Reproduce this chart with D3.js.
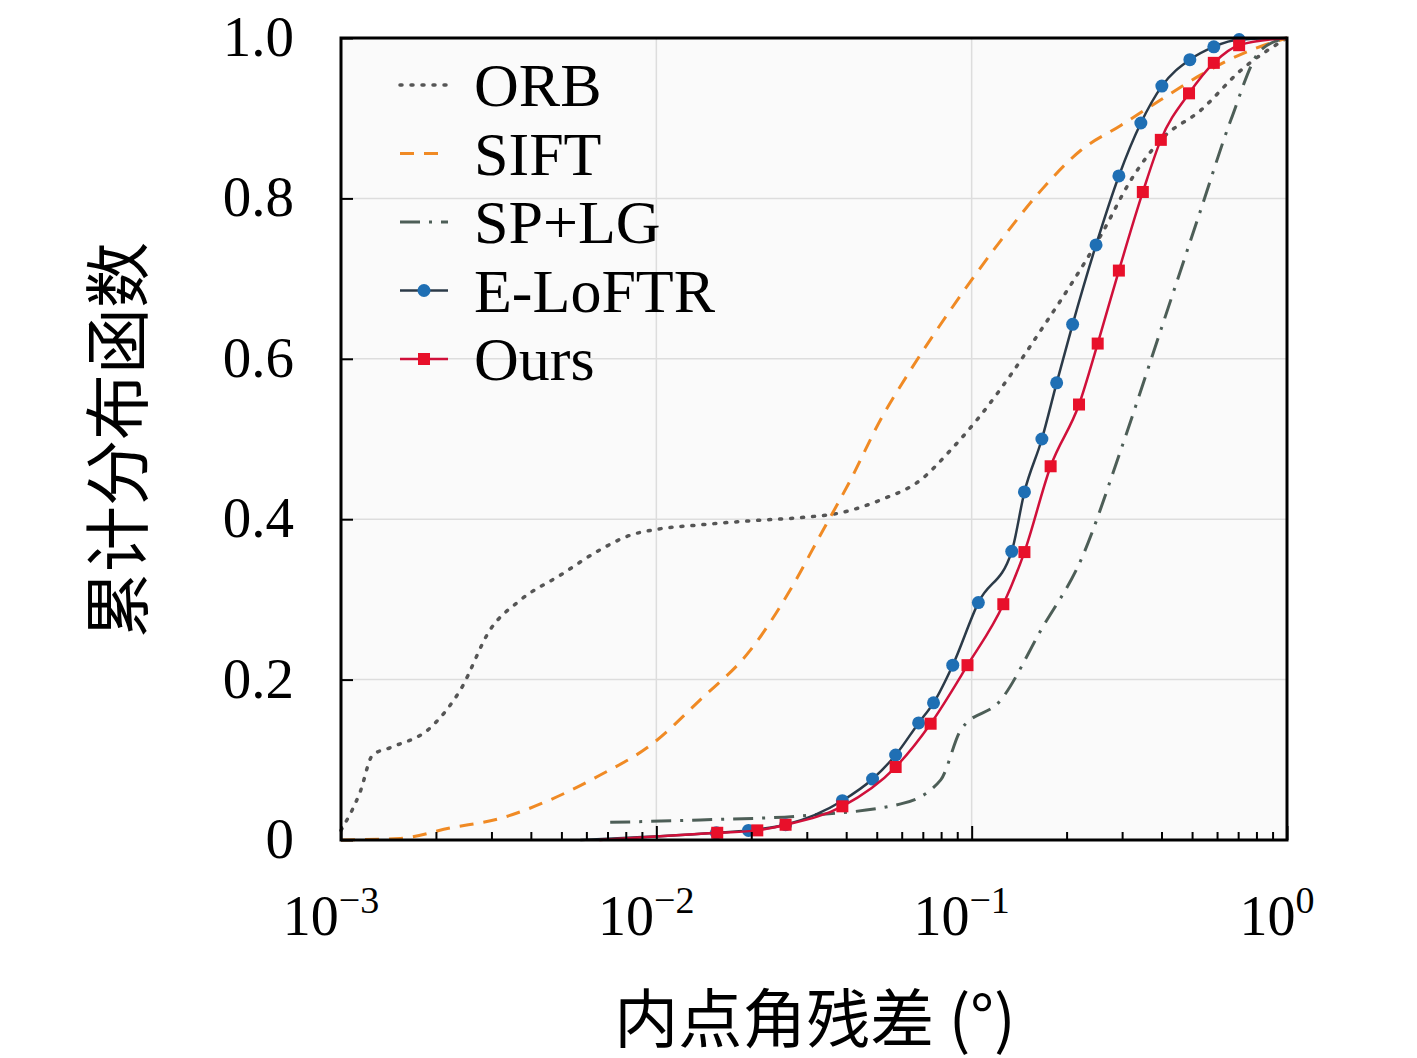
<!DOCTYPE html>
<html><head><meta charset="utf-8">
<script src="https://cdn.jsdelivr.net/npm/d3@7"></script>
<style>body{margin:0;background:#fff}</style>
</head><body>
<svg id="c" width="1417" height="1058"></svg>
<script>
const orbX = [0.001,0.00115,0.00126,0.00143,0.00192,0.00239,0.00297,0.0037,0.00495,0.00664,0.00826,0.0099,0.0138,0.0199,0.0286,0.0384,0.0514,0.0689,0.0857,0.107,0.133,0.166,0.206,0.257,0.32,0.398,0.533,0.715,1.0];
const orbY = [0.012,0.06,0.106,0.115,0.14,0.187,0.262,0.299,0.33,0.362,0.38,0.387,0.393,0.398,0.402,0.408,0.424,0.449,0.486,0.53,0.58,0.636,0.692,0.754,0.823,0.873,0.91,0.96,1.0];
const siftX = [0.001,0.00154,0.00222,0.0032,0.0046,0.00664,0.00957,0.0138,0.0199,0.0266,0.0332,0.0413,0.0514,0.064,0.0857,0.124,0.166,0.222,0.297,0.398,0.533,0.769,1.0];
const siftY = [0,0.002,0.015,0.027,0.05,0.081,0.118,0.175,0.237,0.312,0.381,0.449,0.524,0.586,0.661,0.748,0.81,0.86,0.891,0.923,0.954,0.985,1.0];
const splgX = [0.00714,0.0138,0.0286,0.0596,0.0798,0.0923,0.124,0.166,0.222,0.297,0.398,0.533,0.664,0.826,1.0];
const splgY = [0.022,0.025,0.03,0.045,0.075,0.137,0.175,0.262,0.349,0.486,0.636,0.786,0.898,0.985,1.0];
const eloftrX = [0.00574,0.0155,0.0196,0.0257,0.0389,0.0485,0.0574,0.0679,0.0757,0.0871,0.105,0.134,0.147,0.167,0.186,0.209,0.248,0.293,0.344,0.401,0.492,0.586,0.705,1.0];
const eloftrY = [0,0.009,0.012,0.019,0.049,0.076,0.106,0.146,0.171,0.218,0.296,0.36,0.434,0.5,0.57,0.643,0.742,0.828,0.894,0.94,0.973,0.989,0.998,1.0];
const oursX = [0.0066,0.0156,0.0209,0.0257,0.0389,0.0574,0.0741,0.097,0.126,0.147,0.178,0.219,0.251,0.293,0.349,0.398,0.489,0.586,0.705,1.0];
const oursY = [0,0.009,0.012,0.019,0.042,0.091,0.145,0.218,0.294,0.359,0.466,0.543,0.619,0.71,0.808,0.873,0.931,0.969,0.991,1.0];
const yTicks = [0,0.2,0.4,0.6,0.8,1.0];
const yTickLabels = ['0','0.2','0.4','0.6','0.8','1.0'];
const xTicks = [0.001,0.01,0.1,1];
const xExps = ['−3','−2','−1','0'];

const series = [
  {name:'ORB', xs:orbX, ys:orbY, color:'#555', dash:'2,9', width:3.5, cap:'round'},
  {name:'SIFT', xs:siftX, ys:siftY, color:'#f08a24', dash:'14,10', width:3},
  {name:'SP+LG', xs:splgX, ys:splgY, color:'#4d5e57', dash:'20,9,3,9', width:3},
  {name:'E-LoFTR', xs:eloftrX, ys:eloftrY, color:'#2b3a48', dash:null, width:2.5, marker:'circle', mcolor:'#1f6fb4'},
  {name:'Ours', xs:oursX, ys:oursY, color:'#d0103a', dash:null, width:2.5, marker:'square', mcolor:'#e8102a'}
];

const svg = d3.select('#c');
const L = 341, R = 1287, T = 38, B = 840;
svg.append('rect').attr('x',L).attr('y',T).attr('width',R-L).attr('height',B-T).attr('fill','#fafafa');

const x = d3.scaleLog().domain([0.001,1]).range([L,R]);
const y = d3.scaleLinear().domain([0,1]).range([B,T]);

// grid
svg.append('g').selectAll('line').data(xTicks.slice(1,3)).enter().append('line')
  .attr('x1',d=>x(d)).attr('x2',d=>x(d)).attr('y1',T).attr('y2',B)
  .attr('stroke','#ddd').attr('stroke-width',1.5);
svg.append('g').selectAll('line').data(yTicks.slice(1,5)).enter().append('line')
  .attr('x1',L).attr('x2',R).attr('y1',d=>y(d)).attr('y2',d=>y(d))
  .attr('stroke','#ddd').attr('stroke-width',1.5);

const line = d3.line().x(d=>x(d[0])).y(d=>y(d[1])).curve(d3.curveMonotoneX);
series.forEach(s=>{
  const pts = s.xs.map((v,i)=>[v,s.ys[i]]);
  svg.append('path').attr('d',line(pts)).attr('fill','none')
    .attr('stroke',s.color).attr('stroke-width',s.width)
    .attr('stroke-dasharray',s.dash).attr('stroke-linecap',s.cap||'butt');
  if(s.marker){
    const mp = pts.slice(1,-1);
    if(s.marker==='circle'){
      svg.append('g').selectAll('circle').data(mp).enter().append('circle')
        .attr('cx',d=>x(d[0])).attr('cy',d=>y(d[1])).attr('r',6.5).attr('fill',s.mcolor);
    } else {
      svg.append('g').selectAll('rect').data(mp).enter().append('rect')
        .attr('x',d=>x(d[0])-6).attr('y',d=>y(d[1])-6).attr('width',12).attr('height',12).attr('fill',s.mcolor);
    }
  }
});

// axes (ticks inward)
const xAxis = d3.axisBottom(x).tickValues(d3.range(-3,0).flatMap(e=>d3.range(1,10).map(k=>k*Math.pow(10,e))).concat([1]))
  .tickSize(-8).tickFormat('');
const gx = svg.append('g').attr('transform',`translate(0,${B})`).call(xAxis);
gx.selectAll('.tick line').attr('stroke','#000').attr('stroke-width',2)
  .attr('y2',d=>xTicks.some(t=>Math.abs(t-d)<1e-9)?-14:-8);
gx.select('.domain').remove();
const yAxis = d3.axisLeft(y).tickValues(yTicks).tickSize(-12).tickFormat('');
const gy = svg.append('g').attr('transform',`translate(${L},0)`).call(yAxis);
gy.selectAll('.tick line').attr('stroke','#000').attr('stroke-width',2);
gy.select('.domain').remove();
svg.append('rect').attr('x',L).attr('y',T).attr('width',R-L).attr('height',B-T)
  .attr('fill','none').attr('stroke','#000').attr('stroke-width',3);

const serif = '"Liberation Serif","DejaVu Serif",serif';
svg.append('g').selectAll('text').data(yTicks).enter().append('text')
  .attr('x',L-47).attr('y',d=>y(d)+18).attr('text-anchor','end')
  .attr('font-family',serif).attr('font-size',57).text((d,i)=>yTickLabels[i]);
const xl = svg.append('g').selectAll('text').data(xTicks).enter().append('text')
  .attr('x',d=>x(d)-10).attr('y',935).attr('text-anchor','middle')
  .attr('font-family',serif).attr('font-size',56);
xl.append('tspan').text('10');
xl.append('tspan').attr('dy',-22).attr('font-size',38).text((d,i)=>xExps[i]);

const cjk = '"Noto Sans CJK SC",sans-serif';
svg.append('text').attr('x',815).attr('y',1042).attr('text-anchor','middle')
  .attr('font-family',cjk).attr('font-size',64).text('内点角残差 (°)');
svg.append('text').attr('transform','translate(142,440) rotate(-90)').attr('text-anchor','middle')
  .attr('font-family',cjk).attr('font-size',66).text('累计分布函数');

// legend
const lg = svg.append('g');
series.forEach((s,i)=>{
  const yy = 85 + i*68.5;
  lg.append('line').attr('x1',400).attr('x2',448).attr('y1',yy).attr('y2',yy)
    .attr('stroke',s.color).attr('stroke-width',s.width)
    .attr('stroke-dasharray',s.dash).attr('stroke-linecap',s.cap||'butt');
  if(s.marker==='circle') lg.append('circle').attr('cx',424).attr('cy',yy).attr('r',6.5).attr('fill',s.mcolor);
  if(s.marker==='square') lg.append('rect').attr('x',418).attr('y',yy-6).attr('width',12).attr('height',12).attr('fill',s.mcolor);
  lg.append('text').attr('x',474).attr('y',yy+21).attr('font-family',serif).attr('font-size',62).text(s.name);
});
</script>
</body></html>
